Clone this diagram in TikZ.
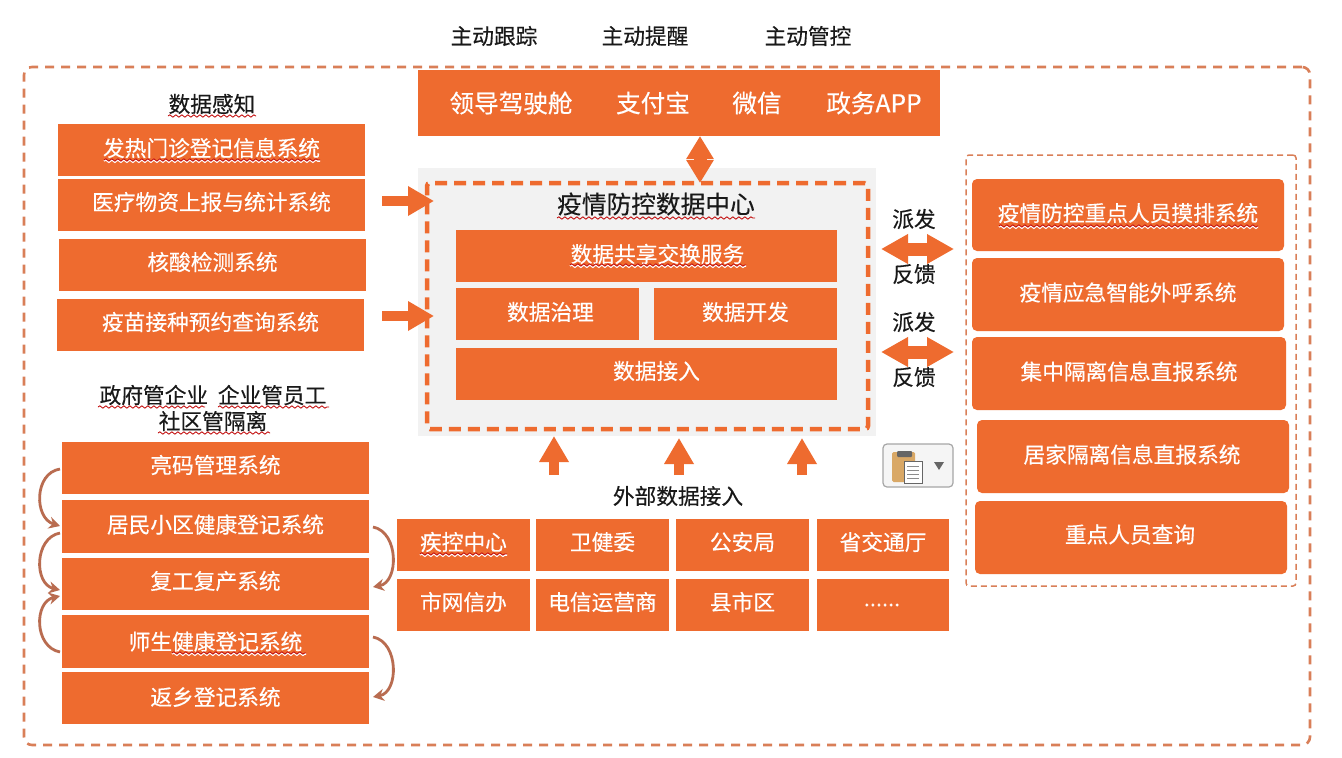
\documentclass[tikz,border=0pt]{standalone}
\usepackage{fontspec}
\setmainfont{Noto Sans CJK SC}
\newfontfamily\heavier[FakeBold=0.35]{Noto Sans CJK SC}
\usetikzlibrary{arrows.meta,decorations.pathmorphing}
\definecolor{org}{HTML}{EE6B2F}
\definecolor{dashc}{HTML}{D97F58}
\definecolor{arcc}{HTML}{B96C50}
\definecolor{tan}{HTML}{D9A866}
\tikzset{
  box/.style={fill=org,draw=none,anchor=center,inner sep=0pt},
  rbox/.style={box,rounded corners=5pt},
  tx/.style={text=white,font=\heavier\fontsize{21.7}{24}\selectfont,inner sep=0pt,yshift=2pt},
  lbl/.style={font=\heavier\fontsize{21.7}{24}\selectfont,text=black!90,inner sep=0pt},
  toptxt/.style={font=\heavier\fontsize{24.6}{28}\selectfont,text=white,inner sep=0pt},
  wave/.style={draw=red!75!black,line width=0.8pt,decorate,decoration={snake,amplitude=1.2pt,segment length=6pt}},
  wavew/.style={draw=white,line width=1.6pt,decorate,decoration={snake,amplitude=1.2pt,segment length=6pt}},
  fat/.style={draw=org,line width=9.5pt,-{Triangle[length=26pt,width=28pt]}},
  dfat/.style={draw=org,line width=13pt,{Triangle[length=27pt,width=28pt]}-{Triangle[length=27pt,width=28pt]}},
  arc/.style={draw=arcc,line width=2.8pt,-{Stealth[length=11pt,width=12pt]}}
}
\newcommand{\pbox}[5]{\node[box,minimum width=#4 pt - #2 pt,minimum height=#5 pt - #3 pt] (#1) at ({(#2+#4)/2},{(#3+#5)/2}) {};}
\newcommand{\prbox}[5]{\node[rbox,minimum width=#4 pt - #2 pt,minimum height=#5 pt - #3 pt] (#1) at ({(#2+#4)/2},{(#3+#5)/2}) {};}
\begin{document}
\begin{tikzpicture}[x=1pt,y=-1pt]
\useasboundingbox (0,0) rectangle (1342,758);
\fill[white] (0,0) rectangle (1342,758);
% outer frames
\node[draw=dashc,line width=2.6pt,dash pattern=on 9pt off 7pt,rounded corners=8pt,minimum width=1286pt,minimum height=678pt,inner sep=0pt] (outer) at (667,406) {};
\node[draw=dashc,line width=1.5pt,dash pattern=on 6pt off 4pt,rounded corners=3pt,minimum width=330pt,minimum height=431pt,inner sep=0pt] (rightframe) at (1131,370.5) {};
% top labels
\node[lbl] (t1) at (494,36) {主动跟踪};
\node[lbl] (t2) at (645,36) {主动提醒};
\node[lbl] (t3) at (808,36) {主动管控};
% top bar
\pbox{top}{418}{70}{940}{136}
\node[toptxt] (a1) at (511,103) {领导驾驶舱};
\node[toptxt] (a2) at (653,103) {支付宝};
\node[toptxt] (a3) at (757,103) {微信};
\node[toptxt] (a4) at (874,103) {政务APP};
% centre
\node[fill=black!5,minimum width=458pt,minimum height=268pt,inner sep=0pt] (grey) at (647,302) {};
\node[draw=org,line width=4.5pt,dash pattern=on 12pt off 7pt,rounded corners=3pt,minimum width=441pt,minimum height=246pt,inner sep=0pt] (core) at (647.5,306) {};
\node[lbl,font=\heavier\fontsize{24.7}{28}\selectfont] (coretitle) at (656,204) {疫情防控数据中心};
\pbox{c1}{456}{230}{837}{282}\node[tx,xshift=11pt] at (c1) {数据共享交换服务};
\pbox{c2}{456}{288}{639}{340}\node[tx,xshift=3pt] at (c2) {数据治理};
\pbox{c3}{654}{288}{837}{340}\node[tx] at (c3) {数据开发};
\pbox{c4}{456}{348}{837}{400}\node[tx,xshift=10pt,yshift=1pt] at (c4) {数据接入};
% left upper
\node[lbl] (l0) at (212,104) {数据感知};
\pbox{l1}{58}{124}{365}{176}\node[tx] at (l1) {发热门诊登记信息系统};
\pbox{l2}{58}{179}{365}{231}\node[tx,yshift=1pt] at (l2) {医疗物资上报与统计系统};
\pbox{l3}{59}{239}{366}{291}\node[tx,yshift=1pt] at (l3) {核酸检测系统};
\pbox{l4}{57}{299}{364}{351}\node[tx,yshift=1pt] at (l4) {疫苗接种预约查询系统};
% left lower
\node[lbl,align=center,font=\heavier\fontsize{21.7}{26}\selectfont] (m0) at (213,408) {政府管企业\ \ 企业管员工\\社区管隔离};
\pbox{m1}{62}{442}{369}{494}\node[tx,yshift=1pt] at (m1) {亮码管理系统};
\pbox{m2}{62}{500}{369}{553}\node[tx] at (m2) {居民小区健康登记系统};
\pbox{m3}{62}{558}{369}{610}\node[tx,yshift=1pt] at (m3) {复工复产系统};
\pbox{m4}{62}{615}{369}{668}\node[tx,yshift=-2pt] at (m4) {师生健康登记系统};
\pbox{m5}{62}{672}{369}{724}\node[tx,yshift=-1pt] at (m5) {返乡登记系统};
% external
\node[lbl] (e0) at (678,496) {外部数据接入};
\pbox{e1}{397}{519}{530}{571}\node[tx,yshift=1pt] at (e1) {疾控中心};
\pbox{e2}{536}{519}{669}{571}\node[tx,yshift=1pt] at (e2) {卫健委};
\pbox{e3}{676}{519}{809}{571}\node[tx,yshift=1pt] at (e3) {公安局};
\pbox{e4}{817}{519}{949}{571}\node[tx,yshift=1pt] at (e4) {省交通厅};
\pbox{e5}{397}{579}{530}{631}\node[tx,yshift=1pt] at (e5) {市网信办};
\pbox{e6}{536}{579}{669}{631}\node[tx,yshift=1pt] at (e6) {电信运营商};
\pbox{e7}{676}{579}{809}{631}\node[tx,yshift=1pt] at (e7) {县市区};
\pbox{e8}{817}{579}{949}{631}\node[tx,xshift=-1pt,yshift=-2pt] at (e8) {......};
% right
\prbox{r1}{972}{179}{1284}{251}\node[tx,yshift=0pt] at (r1) {疫情防控重点人员摸排系统};
\prbox{r2}{972}{258}{1284}{331}\node[tx,yshift=0pt] at (r2) {疫情应急智能外呼系统};
\prbox{r3}{972}{337}{1286}{410}\node[tx,yshift=0pt] at (r3) {集中隔离信息直报系统};
\prbox{r4}{977}{420}{1289}{493}\node[tx,xshift=-1pt] at (r4) {居家隔离信息直报系统};
\prbox{r5}{975}{501}{1287}{574}\node[tx,yshift=1pt,xshift=-1pt] at (r5) {重点人员查询};
% labels
\node[lbl] (p1) at (914,219) {派发};
\node[lbl] (f1) at (914,274) {反馈};
\node[lbl] (p2) at (914,322) {派发};
\node[lbl] (f2) at (914,377) {反馈};
% connector ends
\coordinate (s1) at (382,201);\coordinate (d1) at (434,201);
\coordinate (s2) at (382,316);\coordinate (d2) at (434,316);
\coordinate (u1s) at (554,475);\coordinate (u1e) at (554,436);
\coordinate (u2s) at (679,475);\coordinate (u2e) at (679,438);
\coordinate (u3s) at (802,475);\coordinate (u3e) at (802,438);
\coordinate (h1a) at (881,249);\coordinate (h1b) at (954,249);
\coordinate (h2a) at (881,352);\coordinate (h2b) at (954,352);
\coordinate (va) at (700,136);\coordinate (vb) at (700,183);
\draw[fat] (s1) -- (d1);
\draw[fat] (s2) -- (d2);
\draw[fat] (u1s) -- (u1e);
\draw[fat] (u2s) -- (u2e);
\draw[fat] (u3s) -- (u3e);
\draw[dfat] (h1a) -- (h1b);
\draw[dfat] (h2a) -- (h2b);
\draw[draw=org,line width=13pt,{Triangle[length=23pt,width=26pt]}-{Triangle[length=23pt,width=26pt]}] (va) -- (vb);
% curved arrows
\coordinate (ca1) at (60,469);\coordinate (ca2) at (60,526);
\coordinate (cb1) at (60,533);\coordinate (cb2) at (60,590);
\coordinate (cc1) at (60,652);\coordinate (cc2) at (60,596);
\coordinate (cd1) at (373,527);\coordinate (cd2) at (373,587);
\coordinate (ce1) at (373,637);\coordinate (ce2) at (373,697);
\draw[arc] (ca1) .. controls (34,473) and (34,518) .. (ca2);
\draw[arc] (cb1) .. controls (34,538) and (34,584) .. (cb2);
\draw[arc] (cc1) .. controls (34,647) and (34,602) .. (cc2);
\draw[arc] (cd1) .. controls (399,532) and (399,582) .. (cd2);
\draw[arc] (ce1) .. controls (399,642) and (399,692) .. (ce2);
% clipboard
\node[draw=black!35,line width=1.2pt,rounded corners=4pt,fill=black!4,minimum width=70pt,minimum height=43pt,inner sep=0pt] (clip) at (918,465.5) {};
\fill[tan,rounded corners=1.5pt] (892,452) rectangle (915,482);
\fill[black!60,rounded corners=1pt] (897,451) rectangle (912,457);
\node[draw=black!60,fill=white,line width=.7pt,minimum width=18pt,minimum height=22pt,inner sep=0pt] (page) at (913,472) {};
\foreach \yy in {466,470,474,478} \draw[black!45,line width=.8pt] (907,\yy) -- (919,\yy);
\fill[black!60] (934,462) -- (944,462) -- (939,470) -- cycle;
% wavy proofing marks
\draw[wave] (168,116) -- (256,116);
\draw[wavew] (104,161) -- (320,161);\draw[wave] (104,160) -- (320,160);
\draw[wave] (98,407) -- (205,407);
\draw[wave] (218,407) -- (329,407);
\draw[wave] (158,433) -- (270,433);
\draw[wavew] (172,654) -- (306,654);\draw[wave] (172,653) -- (306,653);
\draw[wave] (557,218) -- (755,218);
\draw[wavew] (570,266) -- (746,266);\draw[wave] (570,265) -- (746,265);
\draw[wavew] (420,555) -- (507,555);\draw[wave] (420,554) -- (507,554);
\draw[wavew] (999,227) -- (1258,227);\draw[wave] (999,226) -- (1258,226);
\end{tikzpicture}
\end{document}
